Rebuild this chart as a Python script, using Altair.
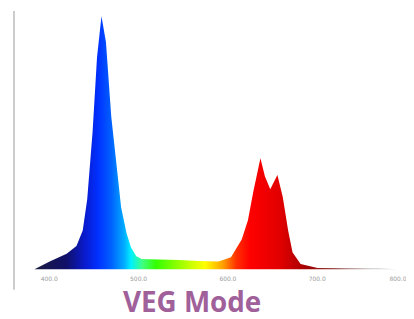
import altair as alt
import pandas as pd

wavelength = [384, 401, 420, 431, 438, 443, 449, 454, 459, 464, 470, 476, 481, 487,
              492, 498, 504, 523, 546, 568, 590, 604, 616, 623, 629, 637, 642, 648,
              656, 662, 668, 673, 682, 701, 734, 768, 790]
intensity = [0.0, 0.03, 0.06, 0.09, 0.15, 0.27, 0.53, 0.82, 0.98, 0.88, 0.59, 0.40,
             0.24, 0.14, 0.085, 0.05, 0.04, 0.038, 0.036, 0.032, 0.03, 0.046, 0.115,
             0.19, 0.30, 0.43, 0.36, 0.31, 0.365, 0.28, 0.15, 0.065, 0.02, 0.005,
             0.004, 0.004, 0.0]
tick_values = [400, 500, 600, 700, 800]

stop_wl = [384, 420, 440, 455, 470, 485, 492, 505, 520, 560, 575, 595, 610, 625,
           660, 690, 720, 760, 790]
stop_col = ["#1a1a40", "#10106a", "#0a1acc", "#0030ff", "#0060ff", "#00b0ff", "#00f0ff",
            "#40ff80", "#33ff00", "#ccff00", "#ffff00", "#ffa000", "#ff3000", "#ff0000",
            "#e00000", "#a00000", "#903838", "#c8c8c8", "#d8d8d8"]

df = pd.DataFrame({"wl": wavelength, "v": intensity})
lo, hi = min(wavelength), max(wavelength)
stops = [alt.GradientStop(offset=(w - lo) / (hi - lo), color=c) for w, c in zip(stop_wl, stop_col)]

area = alt.Chart(df).mark_area(
    color=alt.Gradient(gradient="linear", stops=stops, x1=0, x2=1, y1=1, y2=1),
    interpolate="linear",
).encode(
    x=alt.X("wl:Q", scale=alt.Scale(domain=[361, 800], nice=False),
            axis=alt.Axis(values=tick_values, format=".1f", title=None, domain=False,
                          ticks=False, grid=False, labelFontSize=6, labelColor="#999999",
                          labelPadding=6, labelFont="DejaVu Sans")),
    y=alt.Y("v:Q", scale=alt.Scale(domain=[0, 1], nice=False), axis=None),
)

rule = alt.Chart(df).mark_rule(color="#cccccc", strokeWidth=1).encode(
    x=alt.value(0), y=alt.value(0), y2=alt.value(280)
)

chart = alt.layer(rule, area).properties(
    width=395, height=260,
    autosize=alt.AutoSizeParams(type="none"),
    padding={"left": 6, "top": 2, "right": 0, "bottom": 49},
    title=alt.TitleParams("VEG Mode", orient="bottom", fontSize=28, font="Open Sans",
                          fontWeight="bold", color="#a0609a", offset=1, anchor="middle",
                          dx=-18),
).configure_view(stroke=None)

chart.save("out.html", embed_options={"renderer": "svg", "actions": False})
